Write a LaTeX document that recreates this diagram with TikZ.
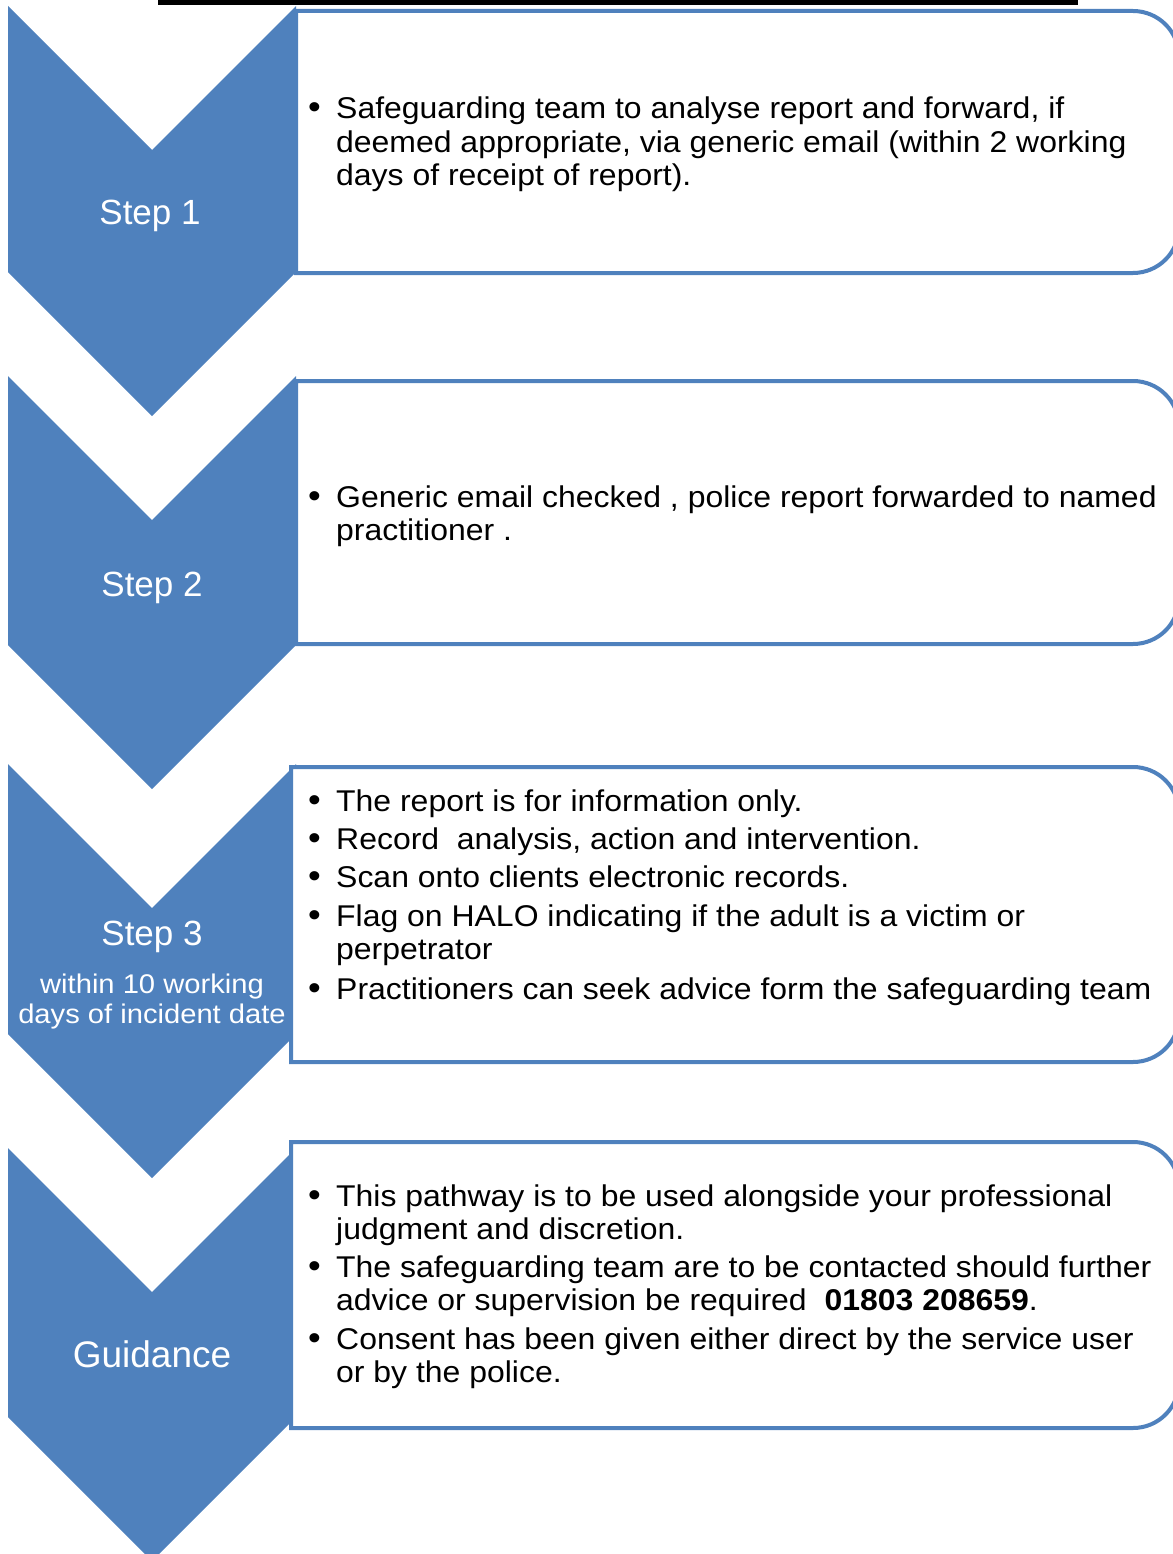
\documentclass[tikz,border=0pt]{standalone}
\usepackage{fontspec}
\newfontfamily\bodyfont[FakeStretch=1.065]{Liberation Sans}
\newfontfamily\labelfont{Liberation Sans}
\newfontfamily\sublabelfont[FakeStretch=1.08]{Liberation Sans}
\definecolor{accent}{HTML}{4F81BD}

% chevron: top edge y, lower end of the vertical sides y
\newcommand\drawchevron[2]{%
  \fill[accent] (8,#1) -- (152,{#1+144}) -- (296,#1) -- (296,#2)
    -- (152,{#2+144}) -- (8,#2) -- cycle;}
% panel: left x, top y, bottom y (rounded on the right only)
\newcommand\drawpanel[3]{%
  \draw[panel] (#1,#2) -- (1133,#2) arc[start angle=-90,end angle=0,radius=46]
    -- (1179,{#3-46}) arc[start angle=0,end angle=90,radius=46] -- (#1,#3) -- cycle;}
% one line of panel text: name, baseline y, text
\newcommand\bodyline[3]{\node[txtline] (#1) at (336,{#2+1.5}) {#3};}
% a bullet: name, baseline y
\newcommand\bulletat[2]{\node[bulletmark] (#1) at (308,{#2+1.5}) {\textbullet};}

\begin{document}
\begin{tikzpicture}[x=1pt,y=-1pt,
  panel/.style={draw=accent,line width=4pt,fill=white,line join=miter},
  txtline/.style={font=\bodyfont\fontsize{30}{33}\selectfont,anchor=base west,
    inner sep=0pt,text=black},
  bulletmark/.style={font=\bodyfont\fontsize{34}{33}\selectfont,anchor=base west,
    inner sep=0pt,text=black},
  steplabel/.style={font=\labelfont\fontsize{35}{40}\selectfont,anchor=base,
    inner sep=0pt,text=white},
  guidelabel/.style={steplabel,font=\labelfont\fontsize{37}{42}\selectfont},
  subtext/.style={font=\sublabelfont\fontsize{27}{30}\selectfont,anchor=base,
    inner sep=0pt,text=white}]
\useasboundingbox (0,0) rectangle (1172,1554);

% rule along the top edge
\draw[line width=5pt] (158,2.5) -- (1078,2.5);

% chevrons
\drawchevron{6}{272}
\drawchevron{376}{645}
\drawchevron{764}{1034}
\drawchevron{1148}{1417}

% panels
\drawpanel{296}{11}{273}
\drawpanel{296}{381}{644}
\drawpanel{291}{767}{1062}
\drawpanel{291}{1142}{1428}

% chevron labels
\node[steplabel] (l1) at (150,225) {Step 1};
\node[steplabel] (l2) at (152,596) {Step 2};
\node[steplabel] (l3) at (152,945) {Step 3};
\node[subtext] (l3a) at (152,993) {within 10 working};
\node[subtext] (l3b) at (152,1023) {days of incident date};
\node[guidelabel] (l4) at (152,1367) {Guidance};

% step 1 text
\bulletat{b1a}{117.5}
\bodyline{t1a}{117.5}{Safeguarding team to analyse report and forward, if}
\bodyline{t1b}{151}{deemed appropriate, via generic email (within 2 working}
\bodyline{t1c}{184.5}{days of receipt of report).}

% step 2 text
\bulletat{b2a}{505.5}
\bodyline{t2a}{505.5}{Generic email checked , police report forwarded to named}
\bodyline{t2b}{538.5}{practitioner .}

% step 3 text
\bulletat{b3a}{809.5}
\bodyline{t3a}{809.5}{The report is for information only.}
\bulletat{b3b}{847.5}
\bodyline{t3b}{847.5}{Record\ \ analysis, action and intervention.}
\bulletat{b3c}{885.5}
\bodyline{t3c}{885.5}{Scan onto clients electronic records.}
\bulletat{b3d}{924.5}
\bodyline{t3d}{924.5}{Flag on HALO indicating if the adult is a victim or}
\bodyline{t3e}{957.5}{perpetrator}
\bulletat{b3f}{997.5}
\bodyline{t3f}{997.5}{Practitioners can seek advice form the safeguarding team}

% guidance text
\bulletat{b4a}{1204.5}
\bodyline{t4a}{1204.5}{This pathway is to be used alongside your professional}
\bodyline{t4b}{1237.5}{judgment and discretion.}
\bulletat{b4c}{1275.5}
\bodyline{t4c}{1275.5}{The safeguarding team are to be contacted should further}
\bodyline{t4d}{1309}{advice or supervision be required\ \ \textbf{01803 208659}.}
\bulletat{b4e}{1347.5}
\bodyline{t4e}{1347.5}{Consent has been given either direct by the service user}
\bodyline{t4f}{1381}{or by the police.}
\end{tikzpicture}
\end{document}
